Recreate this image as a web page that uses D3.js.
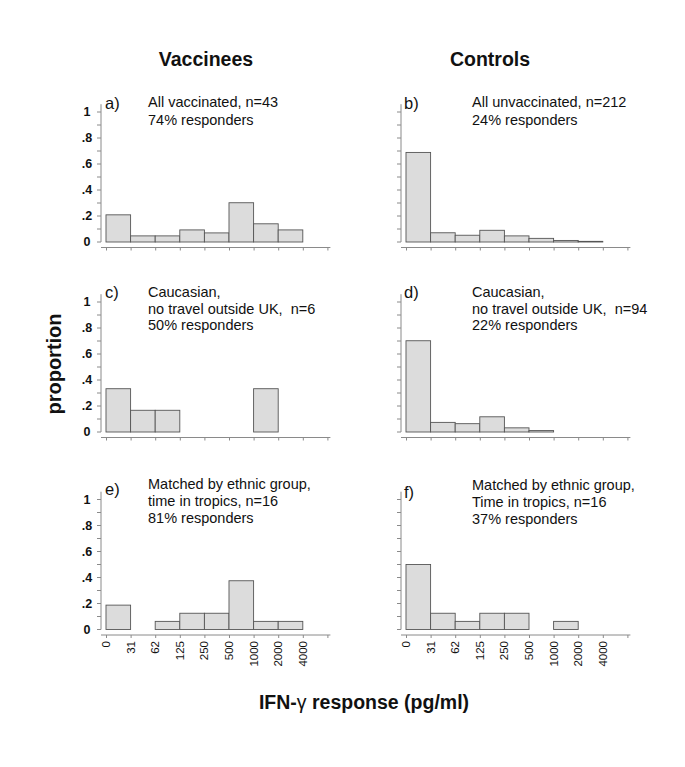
<!DOCTYPE html>
<html>
<head>
<meta charset="utf-8">
<script src="https://cdn.jsdelivr.net/npm/d3@7"></script>
<style>
  html, body { margin: 0; padding: 0; background: #fff; }
  svg { display: block; font-family: Arial, "Liberation Sans", Helvetica, sans-serif; }
  text { white-space: pre; }
</style>
</head>
<body>
<svg id="chart" width="685" height="767"></svg>
<script>
// ---- data ----
const binLabels = ["0", "31", "62", "125", "250", "500", "1000", "2000", "4000"];
const yTickLabels = ["0", ".2", ".4", ".6", ".8", "1"];
const yTickValues = [0, 0.2, 0.4, 0.6, 0.8, 1];

const panelA = [0.209, 0.047, 0.047, 0.093, 0.070, 0.302, 0.140, 0.093];
const panelB = [0.689, 0.071, 0.052, 0.090, 0.047, 0.028, 0.012, 0.005];
const panelC = [0.333, 0.167, 0.167, 0, 0, 0, 0.333, 0];
const panelD = [0.702, 0.074, 0.064, 0.117, 0.032, 0.011, 0, 0];
const panelE = [0.1875, 0, 0.0625, 0.125, 0.125, 0.375, 0.0625, 0.0625];
const panelF = [0.5, 0.125, 0.0625, 0.125, 0.125, 0, 0.0625, 0];

const letters = ["a)", "b)", "c)", "d)", "e)", "f)"];
const notes = [
  ["All vaccinated, n=43", "74% responders"],
  ["All unvaccinated, n=212", "24% responders"],
  ["Caucasian,", "no travel outside UK,  n=6", "50% responders"],
  ["Caucasian,", "no travel outside UK,  n=94", "22% responders"],
  ["Matched by ethnic group,", "time in tropics, n=16", "81% responders"],
  ["Matched by ethnic group,", "Time in tropics, n=16", "37% responders"]
];
const columnTitles = ["Vaccinees", "Controls"];
const yTitle = "proportion";

// ---- layout ----
const svg = d3.select("#chart");
const colAxisX = [101, 401];
const rowZeroY = [242, 432, 629.5];
const rowHeight = 130;
const binStep = 24.6;
const nPositions = 9; // tick positions 0..9
const noteOffsetX = [47, 71];
const noteLineH = [[0, 18], [0, 16.5, 33], [0, 17, 34]];
const noteFirstY = [[-135, -135], [-135, -135], [-140.5, -139.5]];
const letterY = [[-133, -133], [-134, -134], [-134.5, -131.5]];
const letterDX = [4, 3];

const panels = [panelA, panelB, panelC, panelD, panelE, panelF];
const axisColor = "#8a8a8a";

panels.forEach((vals, i) => {
  const row = Math.floor(i / 2), col = i % 2;
  const ax = colAxisX[col];
  const y0 = rowZeroY[row];
  const g = svg.append("g");

  const x = d3.scaleLinear().domain([0, nPositions]).range([ax + 5, ax + 5 + binStep * nPositions]);
  const y = d3.scaleLinear().domain([0, 1]).range([y0, y0 - rowHeight]);

  const barData = vals.map((v, j) => ({ j, v })).filter(d => d.v > 0);

  // bars
  g.selectAll("rect.bar").data(barData).enter().append("rect")
    .attr("class", "bar")
    .attr("x", d => x(d.j)).attr("y", d => y(d.v))
    .attr("width", d => x(d.j + 1) - x(d.j)).attr("height", d => y(0) - y(d.v))
    .attr("fill", "#dcdcdc").attr("stroke", "#555").attr("stroke-width", 0.9);

  // y axis
  const yAxisG = g.append("g").attr("transform", `translate(${ax},0)`);
  yAxisG.append("line").attr("x1", 0).attr("x2", 0)
    .attr("y1", y(0)).attr("y2", y(1.06))
    .attr("stroke", axisColor).attr("stroke-width", 1);
  yAxisG.selectAll("line.tk").data(d3.range(0, 11)).enter().append("line")
    .attr("class", "tk")
    .attr("x1", -4).attr("x2", 0)
    .attr("y1", k => y(k / 10)).attr("y2", k => y(k / 10))
    .attr("stroke", axisColor).attr("stroke-width", 1);
  if (col === 0) {
    yAxisG.selectAll("text.yl").data(yTickValues).enter().append("text")
      .attr("class", "yl")
      .attr("x", -14).attr("y", tv => y(tv))
      .attr("text-anchor", "middle").attr("dominant-baseline", "central")
      .attr("font-size", 12.5).attr("font-weight", "bold").attr("fill", "#111")
      .text((tv, k) => yTickLabels[k]);
  }

  // x axis
  const xAxisY = y0 + 5.5;
  const xAxis = d3.axisBottom(x).tickValues(d3.range(0, nPositions + 1))
    .tickSize(3).tickSizeOuter(0).tickFormat("");
  const xg = g.append("g").attr("transform", `translate(0,${xAxisY})`).call(xAxis);
  xg.select(".domain").attr("stroke", axisColor).attr("d", `M${ax},0H${x(nPositions) + 3}`);
  xg.selectAll(".tick line").attr("stroke", axisColor);
  if (row === 2) {
    g.selectAll("text.xl").data(binLabels).enter().append("text")
      .attr("class", "xl")
      .attr("transform", (lab, k) => `translate(${x(k)},${xAxisY + 6}) rotate(-90)`)
      .attr("text-anchor", "end").attr("dominant-baseline", "central")
      .attr("font-size", 11.5).attr("fill", "#111")
      .text(lab => lab);
  }

  // annotations
  g.append("text").attr("x", ax + letterDX[col]).attr("y", y0 + letterY[row][col])
    .attr("font-size", 16.5).attr("fill", "#111").text(letters[i]);
  notes[i].forEach((line, k) => {
    g.append("text").attr("x", ax + noteOffsetX[col])
      .attr("y", y0 + noteFirstY[row][col] + noteLineH[row][k])
      .attr("font-size", 14.5).attr("fill", "#111").text(line);
  });
});

// column titles
const titleX = [206, 490];
columnTitles.forEach((t, c) => {
  svg.append("text").attr("x", titleX[c]).attr("y", 66)
    .attr("text-anchor", "middle").attr("font-size", 19.5).attr("font-weight", "bold")
    .attr("fill", "#111").text(t);
});

// y title
svg.append("text").attr("transform", "translate(61,364) rotate(-90)")
  .attr("text-anchor", "middle").attr("font-size", 20).attr("font-weight", "bold")
  .attr("fill", "#111").text(yTitle);

// x title
const xt = svg.append("text").attr("x", 364).attr("y", 709)
  .attr("text-anchor", "middle").attr("font-size", 19.5).attr("font-weight", "bold").attr("fill", "#111");
xt.append("tspan").text("IFN-");
xt.append("tspan").attr("font-weight", "normal").text("γ");
xt.append("tspan").text(" response (pg/ml)");
</script>
</body>
</html>
